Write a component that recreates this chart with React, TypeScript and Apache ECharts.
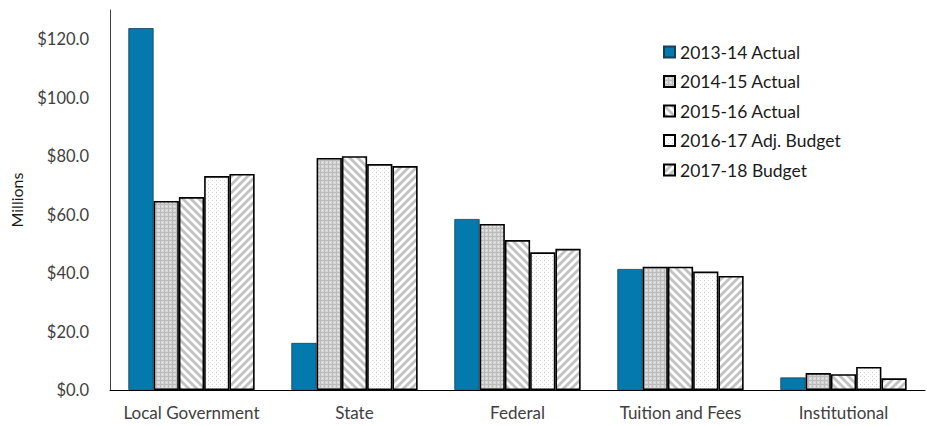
import React, { useEffect, useRef } from "react";
import * as echarts from "echarts";

const categories = ["Local Government", "State", "Federal", "Tuition and Fees", "Institutional"];
const seriesNames = ["2013-14 Actual", "2014-15 Actual", "2015-16 Actual", "2016-17 Adj. Budget", "2017-18 Budget"];
const actual1314 = [123.8, 16.1, 58.5, 41.4, 4.3];
const actual1415 = [64.7, 79.4, 56.8, 42.2, 5.8];
const actual1516 = [66.0, 80.0, 51.3, 42.2, 5.4];
const adjBudget1617 = [73.2, 77.3, 47.1, 40.5, 7.9];
const budget1718 = [73.9, 76.6, 48.3, 39.0, 4.0];
const yTicks = [0, 20, 40, 60, 80, 100, 120];

function makeTile(size: number, draw: (ctx: CanvasRenderingContext2D) => void) {
  const c = document.createElement("canvas");
  c.width = size;
  c.height = size;
  const ctx = c.getContext("2d") as CanvasRenderingContext2D;
  ctx.fillStyle = "#ffffff";
  ctx.fillRect(0, 0, size, size);
  draw(ctx);
  return c;
}

// fine grey grid
function gridTile() {
  return makeTile(4, (ctx) => {
    ctx.fillStyle = "#d4d4d4";
    ctx.fillRect(0, 0, 4, 4);
    ctx.fillStyle = "#bcbcbc";
    ctx.fillRect(0, 0, 4, 1);
    ctx.fillRect(0, 0, 1, 4);
    ctx.fillStyle = "#f0f0f0";
    ctx.fillRect(2, 2, 1, 1);
  });
}

// wide diagonal stripes; dir = 1 for "\" and -1 for "/"
function stripeTile(dir: number) {
  const s = 8;
  return makeTile(s, (ctx) => {
    ctx.strokeStyle = "#c2c2c2";
    ctx.lineWidth = 2.8;
    for (let k = -2; k <= 2; k++) {
      ctx.beginPath();
      if (dir > 0) {
        ctx.moveTo(k * s - 2, -2);
        ctx.lineTo(k * s + s + 2, s + 2);
      } else {
        ctx.moveTo(k * s - 2, s + 2);
        ctx.lineTo(k * s + s + 2, -2);
      }
      ctx.stroke();
    }
  });
}

// sparse dots
function dotTile() {
  return makeTile(4, (ctx) => {
    ctx.fillStyle = "#cfcfcf";
    ctx.fillRect(0, 0, 1, 1);
    ctx.fillStyle = "#e2e2e2";
    ctx.fillRect(2, 2, 1, 1);
  });
}

export default function App() {
  const ref = useRef<HTMLDivElement>(null);

  useEffect(() => {
    if (!ref.current) return;
    const chart = echarts.init(ref.current, null, { renderer: "svg" });
    const font = "Lato, 'Open Sans', sans-serif";
    const fills: any[] = [
      "#0379AE",
      { image: gridTile(), repeat: "repeat" },
      { image: stripeTile(1), repeat: "repeat" },
      { image: dotTile(), repeat: "repeat" },
      { image: stripeTile(-1), repeat: "repeat" },
    ];
    const dataSets = [actual1314, actual1415, actual1516, adjBudget1617, budget1718];

    chart.setOption({
      animation: false,
      grid: { left: 104, right: 2, top: 10, bottom: 36, containLabel: false },
      legend: {
        orient: "vertical",
        left: 658,
        top: 38,
        icon: "rect",
        itemWidth: 11,
        itemHeight: 11,
        itemGap: 11.5,
        textStyle: { fontFamily: font, fontSize: 17.5, color: "#1a1a1a" },
        data: seriesNames,
      },
      xAxis: {
        type: "category",
        data: categories,
        axisLine: { lineStyle: { color: "#000000", width: 1 } },
        axisTick: { show: false },
        axisLabel: { interval: 0, fontFamily: font, fontSize: 17, color: "#404040", margin: 14 },
      },
      yAxis: {
        type: "value",
        min: 0,
        max: 130,
        interval: 20,
        name: "Millions",
        nameLocation: "middle",
        nameGap: 86,
        nameTextStyle: { fontFamily: font, fontSize: 16, color: "#1a1a1a" },
        axisLine: { show: true, lineStyle: { color: "#404040", width: 1 } },
        axisTick: { show: false },
        splitLine: { show: false },
        axisLabel: {
          fontFamily: font,
          fontSize: 16.5,
          color: "#404040",
          margin: 21,
          showMaxLabel: false,
          formatter: (v: number) => (yTicks.includes(v) ? "$" + v.toFixed(1) : ""),
        },
      },
      series: seriesNames.map((name, i) => ({
        name,
        type: "bar",
        data: dataSets[i],
        barGap: "0%",
        barCategoryGap: "22.5%",
        itemStyle: {
          color: fills[i],
          borderColor: i === 0 ? "#1c3f55" : "#000000",
          borderWidth: i === 0 ? 0.8 : 1.6,
        },
      })),
    });

    return () => chart.dispose();
  }, []);

  return <div ref={ref} style={{ width: 927, height: 426, position: "absolute", left: 0, top: 0 }} />;
}
